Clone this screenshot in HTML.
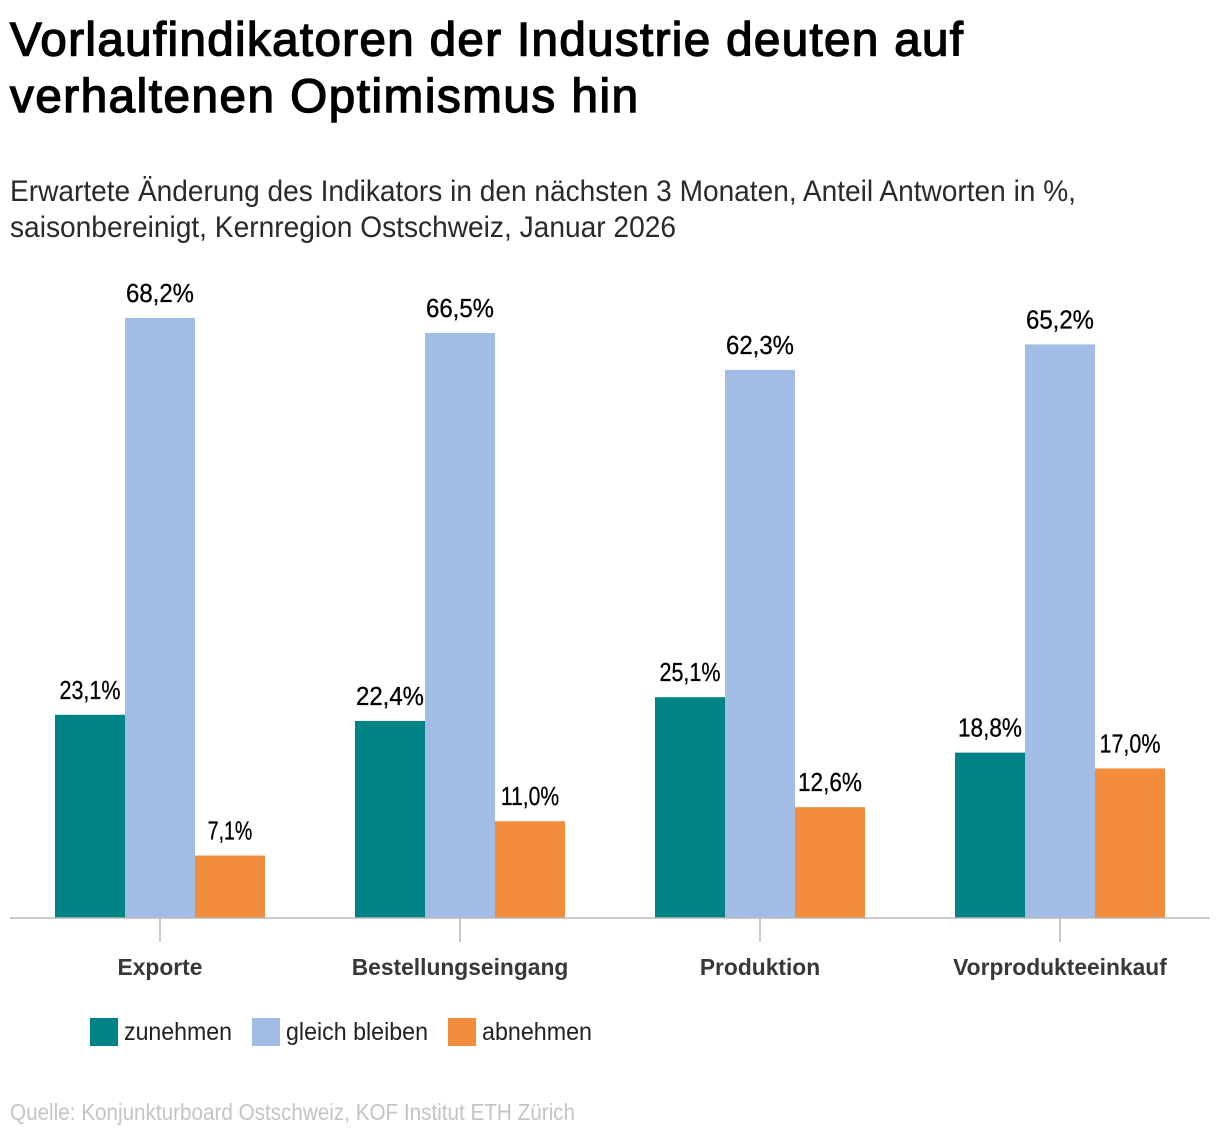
<!DOCTYPE html>
<html lang="de">
<head>
<meta charset="utf-8">
<title>Vorlaufindikatoren der Industrie</title>
<style>
html,body{margin:0;padding:0;background:#fff;}
#chart{display:block;width:1220px;height:1136px;font-family:"Liberation Sans",sans-serif;}
</style>
</head>
<body>
<svg id="chart" xmlns="http://www.w3.org/2000/svg" width="1220" height="1136" viewBox="0 0 1220 1136">
  <text x="10" y="55.5" font-size="47.5" stroke="#000" stroke-width="1.4" fill="#000" textLength="953" lengthAdjust="spacing">Vorlaufindikatoren der Industrie deuten auf</text>
  <text x="10" y="112" font-size="47.5" stroke="#000" stroke-width="1.4" fill="#000" textLength="628" lengthAdjust="spacing">verhaltenen Optimismus hin</text>
  <text x="10" y="201" font-size="30" fill="#2a2a2a" textLength="1066" lengthAdjust="spacingAndGlyphs">Erwartete Änderung des Indikators in den nächsten 3 Monaten, Anteil Antworten in %,</text>
  <text x="10" y="237" font-size="30" fill="#2a2a2a" textLength="666" lengthAdjust="spacingAndGlyphs">saisonbereinigt, Kernregion Ostschweiz, Januar 2026</text>
  <g id="bars"></g>
  <g id="x-axis"></g>
  <g>
    <rect x="90" y="1018" width="28" height="28" fill="#008385"/>
    <text x="124" y="1040" font-size="25" fill="#222" textLength="108" lengthAdjust="spacingAndGlyphs">zunehmen</text>
    <rect x="252" y="1018" width="28" height="28" fill="#a1bde5"/>
    <text x="286" y="1040" font-size="25" fill="#222" textLength="142" lengthAdjust="spacingAndGlyphs">gleich bleiben</text>
    <rect x="448" y="1018" width="28" height="28" fill="#f28d3e"/>
    <text x="482" y="1040" font-size="25" fill="#222" textLength="110" lengthAdjust="spacingAndGlyphs">abnehmen</text>
  </g>
  <text x="10" y="1120" font-size="23" fill="#c4c4c4" textLength="565" lengthAdjust="spacingAndGlyphs">Quelle: Konjunkturboard Ostschweiz, KOF Institut ETH Zürich</text>
</svg>
<script>
const categories = ["Exporte", "Bestellungseingang", "Produktion", "Vorprodukteeinkauf"];
const zunehmen = [23.1, 22.4, 25.1, 18.8];
const gleichBleiben = [68.2, 66.5, 62.3, 65.2];
const abnehmen = [7.1, 11.0, 12.6, 17.0];

const SVG_NS = "http://www.w3.org/2000/svg";
const baseY = 918, unit = 600 / 68.2, barW = 70, groupStep = 300, firstCenter = 160;
const yScale = v => baseY - v * unit;
const xCenter = i => firstCenter + i * groupStep;
const fmt = v => v.toFixed(1).replace(".", ",") + "%";
const seriesList = [
  { key: "zunehmen", values: zunehmen, color: "#008385" },
  { key: "gleich-bleiben", values: gleichBleiben, color: "#a1bde5" },
  { key: "abnehmen", values: abnehmen, color: "#f28d3e" }
];
const barsG = document.getElementById("bars");
const axisG = document.getElementById("x-axis");

// The original typeface has narrow figure 1s; tighten the label width to suit.
function labelWidth(measured, str) {
  const ones = str.split("1").length - 1;
  const after = str.includes(",1") ? 3 : 0;
  const seven = str.includes("7") ? 3 : 0;
  return measured * 0.94 - ones * 4 - after - seven;
}

categories.forEach((cat, i) => {
  seriesList.forEach((s, j) => {
    const v = s.values[i];
    const x = xCenter(i) + (j - 1.5) * barW;
    const r = document.createElementNS(SVG_NS, "rect");
    r.setAttribute("x", x);
    r.setAttribute("y", yScale(v));
    r.setAttribute("width", barW);
    r.setAttribute("height", baseY - yScale(v));
    r.setAttribute("fill", s.color);
    
    
    barsG.appendChild(r);
    const t = document.createElementNS(SVG_NS, "text");
    t.setAttribute("x", x + barW / 2);
    t.setAttribute("y", yScale(v) - 16);
    t.setAttribute("text-anchor", "middle");
    t.setAttribute("font-size", "25.5");
    t.setAttribute("fill", "#000");
    t.setAttribute("stroke", "#000");
    t.setAttribute("stroke-width", "0.3");
    t.textContent = fmt(v);
    
    
    barsG.appendChild(t);
    t.setAttribute("textLength", labelWidth(t.getComputedTextLength(), t.textContent));
    t.setAttribute("lengthAdjust", "spacingAndGlyphs");
  });
  const tick = document.createElementNS(SVG_NS, "line");
  tick.setAttribute("x1", xCenter(i));
  tick.setAttribute("x2", xCenter(i));
  tick.setAttribute("y1", baseY);
  tick.setAttribute("y2", 942);
  tick.setAttribute("stroke", "#b8b8b8");
  tick.setAttribute("stroke-width", "1.5");
  
  
  axisG.appendChild(tick);
  const lab = document.createElementNS(SVG_NS, "text");
  lab.setAttribute("x", xCenter(i));
  lab.setAttribute("y", 975);
  lab.setAttribute("text-anchor", "middle");
  lab.setAttribute("font-size", "22.8");
  lab.setAttribute("font-weight", "700");
  lab.setAttribute("fill", "#383838");
  lab.textContent = cat;
  
  
  axisG.appendChild(lab);
});
const axisLine = document.createElementNS(SVG_NS, "line");
axisLine.setAttribute("x1", 10);
axisLine.setAttribute("x2", 1210);
axisLine.setAttribute("y1", baseY);
axisLine.setAttribute("y2", baseY);
axisLine.setAttribute("stroke", "#b8b8b8");
axisLine.setAttribute("stroke-width", "1.5");


axisG.appendChild(axisLine);
</script>
</body>
</html>
